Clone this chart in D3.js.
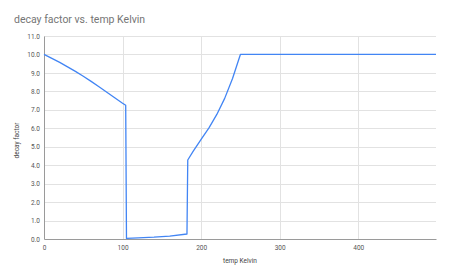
<!DOCTYPE html>
<html>
<head>
<meta charset="utf-8">
<script src="https://cdn.jsdelivr.net/npm/d3@7"></script>
<style>
  body { margin: 0; background: #fff; }
  text { font-family: Roboto, "Liberation Sans", sans-serif; }
</style>
</head>
<body>
<div id="chart"></div>
<script>
// values
var temps   = [0, 10, 20, 30, 40, 50, 60, 70, 80, 90, 100, 104,
               105, 120, 140, 160, 182,
               183, 190, 200, 210, 220, 230, 240, 250, 499];
var factors = [10, 9.79, 9.57, 9.33, 9.08, 8.82, 8.54, 8.25, 7.95, 7.65, 7.36, 7.25,
               0.03, 0.06, 0.1, 0.16, 0.27,
               4.28, 4.76, 5.4, 6.02, 6.75, 7.62, 8.7, 10, 10];
var xTicks = [0, 100, 200, 300, 400];
var yTicks = [0, 1, 2, 3, 4, 5, 6, 7, 8, 9, 10, 11];

var title = "decay factor vs. temp Kelvin";
var xTitle = "temp Kelvin";
var yTitle = "decay factor";

var margin = { top: 36, right: 14, bottom: 39, left: 44 };
var W = 450, H = 278;
var width = W - margin.left - margin.right;
var height = H - margin.top - margin.bottom;

var data = temps.map(function (t, i) { return { t: t, v: factors[i] }; });

var svg = d3.select("#chart").append("svg")
    .attr("width", W)
    .attr("height", H);

svg.append("text")
    .attr("x", 14)
    .attr("y", 23)
    .attr("fill", "#757575")
    .style("font-size", "10.5px")
    .text(title);

var g = svg.append("g").attr("transform", "translate(" + margin.left + "," + margin.top + ")");

var x = d3.scaleLinear().domain([0, 499]).range([0, width]);
var y = d3.scaleLinear().domain([0, 11]).range([height, 0]);

// grid
g.append("g").selectAll("line").data(yTicks.slice(1)).enter().append("line")
    .attr("x1", 0).attr("x2", width)
    .attr("y1", function (d) { return Math.round(y(d)) + 0.5; })
    .attr("y2", function (d) { return Math.round(y(d)) + 0.5; })
    .attr("stroke", "#e2e2e2");
g.append("g").selectAll("line").data(xTicks.slice(1)).enter().append("line")
    .attr("y1", 0).attr("y2", height)
    .attr("x1", function (d) { return Math.round(x(d)) + 0.5; })
    .attr("x2", function (d) { return Math.round(x(d)) + 0.5; })
    .attr("stroke", "#e2e2e2");

// axes
var xAxis = d3.axisBottom(x).tickValues(xTicks).tickSize(0).tickPadding(6);
var yAxis = d3.axisLeft(y).tickValues(yTicks).tickSize(0).tickPadding(4)
    .tickFormat(d3.format(".1f"));

var gx = g.append("g")
    .attr("transform", "translate(0," + height + ")")
    .call(xAxis);
var gy = g.append("g").call(yAxis);

[gx, gy].forEach(function (a) {
  a.select(".domain").attr("stroke", "#9a9a9a");
  a.selectAll("text").attr("fill", "#555").style("font-size", "6.5px");
});

// the line
var line = d3.line()
    .x(function (d) { return x(d.t); })
    .y(function (d) { return y(d.v); });

g.append("path")
    .datum(data)
    .attr("fill", "none")
    .attr("stroke", "#4285f4")
    .attr("stroke-width", 1.3)
    .attr("stroke-linejoin", "round")
    .attr("d", line);

// axis titles
svg.append("text")
    .attr("x", margin.left + width / 2)
    .attr("y", 263)
    .attr("text-anchor", "middle")
    .attr("fill", "#444")
    .style("font-size", "6.5px")
    .text(xTitle);

svg.append("text")
    .attr("transform", "translate(19," + (margin.top + height / 2 + 3) + ") rotate(-90)")
    .attr("text-anchor", "middle")
    .attr("fill", "#444")
    .style("font-size", "6.5px")
    .text(yTitle);
</script>
</body>
</html>
